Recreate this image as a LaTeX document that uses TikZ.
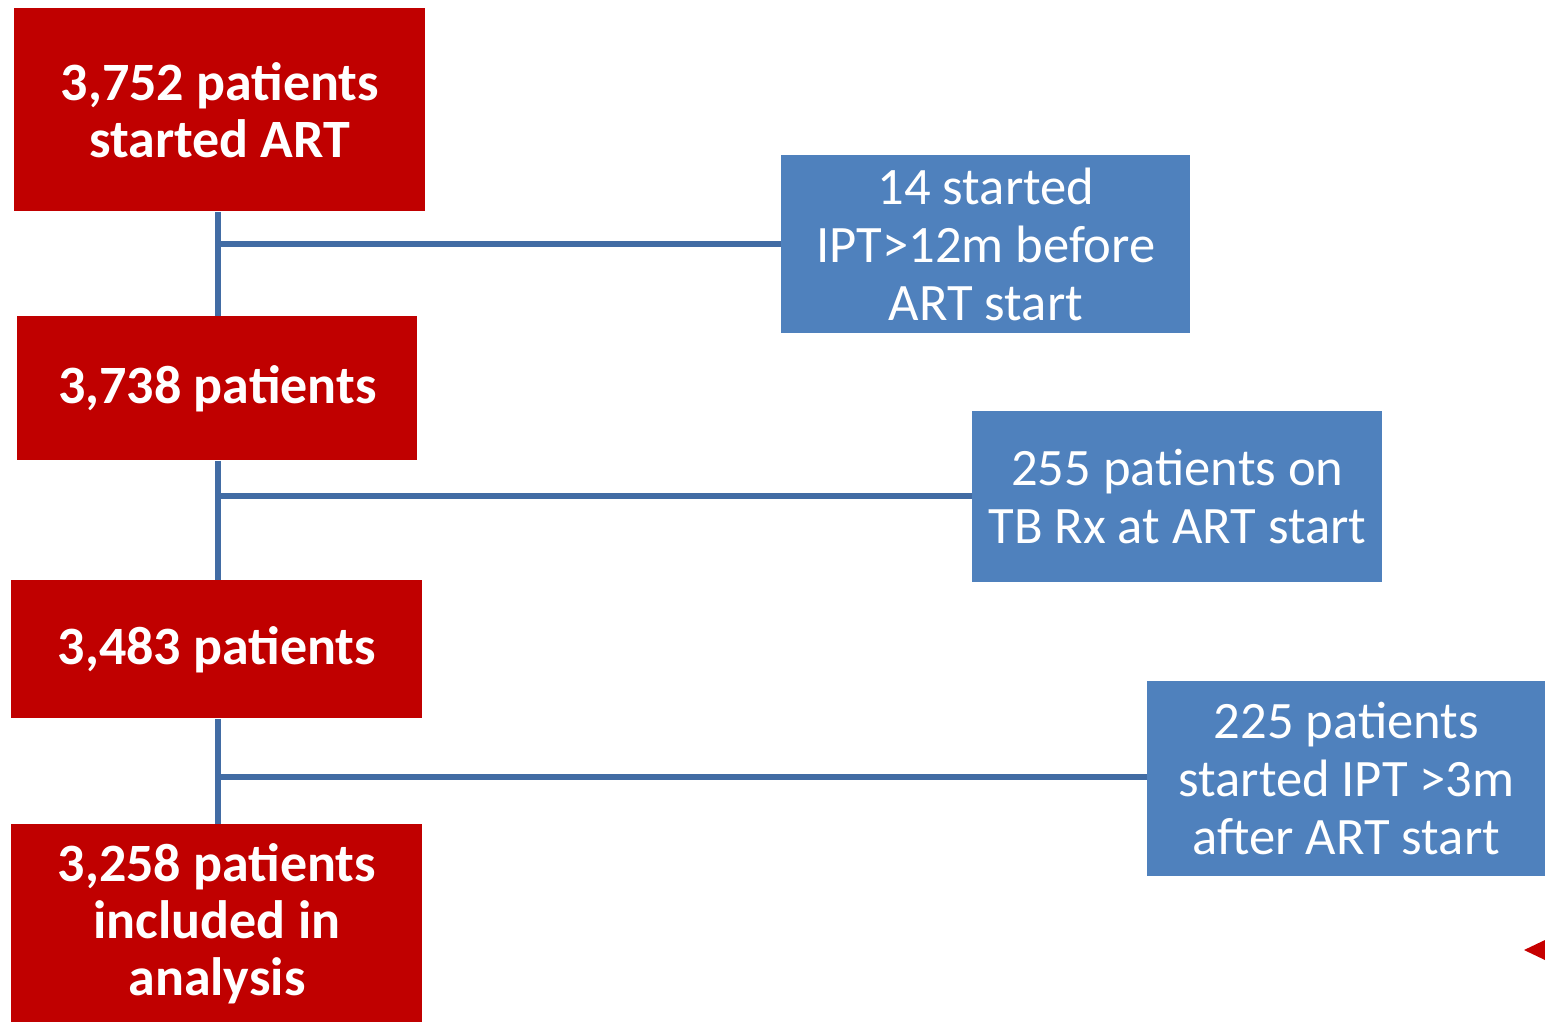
\documentclass[tikz,border=0pt]{standalone}
\usepackage{fontspec}
\setmainfont{Carlito}
\definecolor{redbox}{RGB}{192,0,0}
\definecolor{bluebox}{RGB}{79,129,189}
\definecolor{conncol}{RGB}{66,108,164}
\begin{document}
\begin{tikzpicture}[x=0.5pt,y=-0.5pt,
  redb/.style={fill=redbox,text=white,font=\fontsize{27}{28.5}\selectfont\bfseries,align=center,inner sep=0pt,anchor=north west},
  blueb/.style={fill=bluebox,text=white,font=\fontsize{26.3}{29}\selectfont,align=center,inner sep=0pt,anchor=north west},
  conn/.style={draw=conncol,line width=3pt}]
\useasboundingbox (0,0) rectangle (1545,1023);
\node[redb,minimum width=205.5pt,minimum height=101.5pt] (r1) at (14,8) {3,752 patients\\started ART};
\node[redb,minimum width=200pt,minimum height=72pt] (r2) at (17,316) {3,738 patients};
\node[redb,minimum width=205.5pt,minimum height=69pt] (r3) at (11,580) {3,483 patients};
\node[redb,minimum width=205.5pt,minimum height=99pt] (r4) at (11,824) {3,258 patients\\included in\\analysis};
\node[blueb,minimum width=204.5pt,minimum height=89pt] (b1) at (781,155) {14 started\\IPT>12m before\\ART start};
\node[blueb,minimum width=205pt,minimum height=85.5pt] (b2) at (972,411) {255 patients on\\TB Rx at ART start};
\node[blueb,minimum width=199pt,minimum height=97.5pt] (b3) at (1147,681) {225 patients\\started IPT >3m\\after ART start};
\coordinate (j1) at (218,244);
\coordinate (j2) at (218,496);
\coordinate (j3) at (218,777);
\draw[conn] (j1 |- r1.south) -- (j1 |- r2.north);
\draw[conn] (j1) -- (j1 -| b1.west);
\draw[conn] (j2 |- r2.south) -- (j2 |- r3.north);
\draw[conn] (j2) -- (j2 -| b2.west);
\draw[conn] (j3 |- r3.south) -- (j3 |- r4.north);
\draw[conn] (j3) -- (j3 -| b3.west);
\fill[redbox!90!red] (1524,950) -- (1545,940) -- (1545,960) -- cycle;
\end{tikzpicture}
\end{document}
